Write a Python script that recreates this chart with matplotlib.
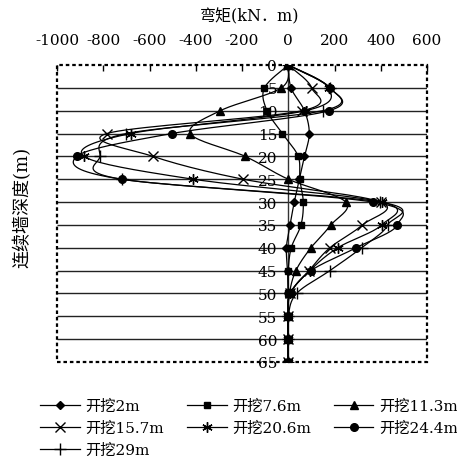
import numpy as np
import matplotlib
matplotlib.use("Agg")
import matplotlib.pyplot as plt
from matplotlib.patches import Rectangle

plt.rcParams['font.family'] = ['DejaVu Serif', 'Noto Sans CJK SC']

depth = [0, 5, 10, 15, 20, 25, 30, 35, 40, 45, 50, 55, 60, 65]
labels = ['开挖2m', '开挖7.6m', '开挖11.3m', '开挖15.7m', '开挖20.6m', '开挖24.4m', '开挖29m']
m_2 = [0, 12, 70, 91, 70, 48, 26, 8, -8, -3, 0, 0, 0, 0]
m_76 = [0, -103, -92, -25, 43, 50, 65, 55, 13, 0, 0, 0, 0, 0]
m_113 = [0, -30, -294, -424, -186, 0, 249, 185, 98, 33, 5, 0, 0, 0]
m_157 = [0, 101, 60, -785, -585, -195, 400, 321, 180, 90, 8, 0, 0, 0]
m_206 = [0, 175, 75, -682, -883, -411, 405, 404, 214, 93, 8, 0, 0, 0]
m_244 = [0, 180, 176, -504, -915, -720, 366, 471, 293, 98, 10, 0, 0, 0]
m_29 = [0, 180, 150, -700, -814, -720, 398, 430, 317, 180, 36, 0, 0, 0]
xticks = [-1000, -800, -600, -400, -200, 0, 200, 400, 600]
yticks = [0, 5, 10, 15, 20, 25, 30, 35, 40, 45, 50, 55, 60, 65]

series = [m_2, m_76, m_113, m_157, m_206, m_244, m_29]
markers = ['D', 's', '^', 'x', (6, 2, 0), 'o', '+']
msizes = [4.5, 5, 6, 6.5, 7.5, 5.5, 8]


def smooth(xs, ys, n=20):
    P = np.column_stack([xs, ys]).astype(float)
    P = np.vstack([P[0], P, P[-1]])
    out = []
    for i in range(1, len(P) - 2):
        p0, p1, p2, p3 = P[i - 1], P[i], P[i + 1], P[i + 2]
        c1 = p1 + (p2 - p0) / 6.0
        c2 = p2 - (p3 - p1) / 6.0
        t = np.linspace(0, 1, n)[:, None]
        b = ((1 - t) ** 3) * p1 + 3 * ((1 - t) ** 2) * t * c1 + 3 * (1 - t) * t ** 2 * c2 + t ** 3 * p2
        out.append(b if i == 1 else b[1:])
    out = np.vstack(out)
    return out[:, 0], out[:, 1]


fig = plt.figure(figsize=(4.57, 4.60), dpi=100)
ax = fig.add_axes([57 / 457, 1 - 363 / 460, 370 / 457, 297 / 460])
ax.set_xlim(-1000, 600)
ax.set_ylim(65, 0)

ax.hlines(yticks[1:-1], -1000, 600, color='#222222', lw=1.0, zorder=1)

handles = []
for vals, mk, ms, lab in zip(series, markers, msizes, labels):
    sx, sy = smooth(vals, depth)
    ax.plot(sx, sy, color='black', lw=0.9, zorder=3)
    ax.plot(vals, depth, linestyle='none', marker=mk, ms=ms, color='black',
            mec='black', mew=1.0, zorder=4)
    h, = ax.plot([], [], color='black', lw=0.9, marker=mk, ms=ms, mew=1.0)
    handles.append((h, lab))

for s in ['top', 'right', 'bottom']:
    ax.spines[s].set_visible(False)
ax.spines['left'].set_position(('data', 0))
ax.spines['left'].set_color('#333333')
ax.spines['left'].set_linewidth(1.0)
ax.add_patch(Rectangle((0, 0), 1, 1, transform=ax.transAxes, fill=False,
                       ec='black', lw=1.6, ls=(0, (1.6, 1.3)), zorder=5, clip_on=False))

ax.xaxis.tick_top()
ax.set_xticks(xticks)
ax.set_xticklabels([str(v) for v in xticks])
ax.tick_params(axis='x', direction='in', length=4, width=1, pad=13, labelsize=11)
ax.set_yticks(yticks)
ax.set_yticklabels([str(v) for v in yticks])
ax.tick_params(axis='y', length=0, pad=8, labelsize=11)
for t in ax.get_yticklabels():
    t.set_zorder(6)

fig.text(250 / 457, 1 - 17 / 460, '弯矩(kN．m)', ha='center', va='center', fontsize=11.5)
fig.text(22 / 457, 1 - 207 / 460, '连续墙深度(m)', ha='center', va='center', rotation=90, fontsize=13)

order = [0, 3, 6, 1, 4, 2, 5]
leg = fig.legend([handles[i][0] for i in order], [handles[i][1] for i in order],
                 ncol=3, loc='center', bbox_to_anchor=(249 / 457, 1 - 429 / 460),
                 frameon=False, fontsize=11, handlelength=2.6, handletextpad=0.35,
                 columnspacing=1.5, labelspacing=0.5, borderpad=0)

fig.savefig('out.png', dpi=100)
